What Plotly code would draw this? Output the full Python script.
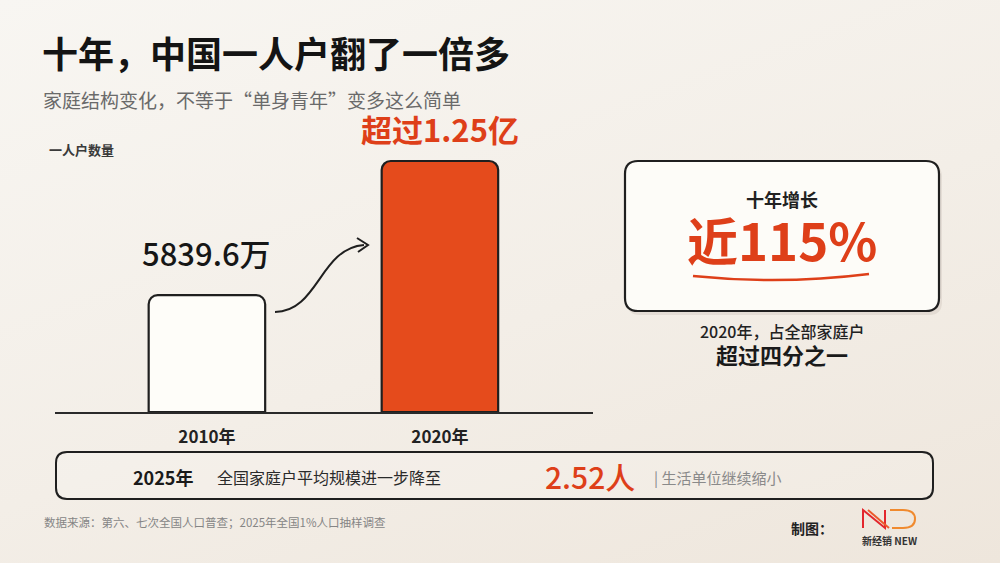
import plotly.graph_objects as go

# ---------------- data ----------------
categories = ["2010年", "2020年"]
households = [5839.6, 12549]          # 一人户数量（万户）
value_labels = ["5839.6万", "超过1.25亿"]
growth_label = "近115%"
avg_size_2025 = "2.52人"

W, H = 1000, 563
FONT = "Noto Sans CJK SC"
ORANGE = "#de3f19"
BAR_ORANGE = "#e54b1c"
INK = "#1f1f1f"


def px(x):
    return x / W


def py(y):
    return 1 - y / H


def pt(x, y):
    return f"{px(x):.5f},{py(y):.5f}"


def rrect(x0, y0, x1, y1, r):
    return (f"M {pt(x0 + r, y0)} L {pt(x1 - r, y0)} Q {pt(x1, y0)} {pt(x1, y0 + r)} "
            f"L {pt(x1, y1 - r)} Q {pt(x1, y1)} {pt(x1 - r, y1)} "
            f"L {pt(x0 + r, y1)} Q {pt(x0, y1)} {pt(x0, y1 - r)} "
            f"L {pt(x0, y0 + r)} Q {pt(x0, y0)} {pt(x0 + r, y0)} Z")


fig = go.Figure()
fig.add_trace(go.Bar(
    x=categories,
    y=households,
    width=0.5,
    marker=dict(color=["#fefdf9", BAR_ORANGE],
                line=dict(color=INK, width=2.2),
                cornerradius=9),
    hoverinfo="skip",
))

# axis geometry (pixels)
base_px, top_px, bar2_top_px = 412, 130, 161
ymax = households[1] * (base_px - top_px) / (base_px - bar2_top_px)

fig.update_layout(
    width=W, height=H,
    margin=dict(l=0, r=0, t=0, b=0),
    paper_bgcolor="rgba(0,0,0,0)", plot_bgcolor="rgba(0,0,0,0)",
    showlegend=False,
    font=dict(family=FONT, color=INK),
    xaxis=dict(domain=[px(55), px(593)], type="category",
               range=[-0.652, 1.657], showgrid=False, zeroline=False,
               showline=True, linecolor="#2a2a2a", linewidth=2,
               ticks="outside", ticklen=9, tickcolor="rgba(0,0,0,0)",
               tickfont=dict(family=FONT, size=17, color="#222", weight="bold"),
               fixedrange=True),
    yaxis=dict(domain=[py(base_px), py(top_px)], range=[0, ymax],
               visible=False, fixedrange=True),
)

# value labels above bars (data coordinates)
fig.add_annotation(x=categories[0], y=households[0], xref="x", yref="y",
                   text=value_labels[0], showarrow=False, yanchor="bottom", yshift=18,
                   font=dict(family=FONT, size=31, color="#161616", weight=500))
fig.add_annotation(x=categories[1], y=households[1], xref="x", yref="y",
                   text=value_labels[1], showarrow=False, yanchor="bottom", yshift=8,
                   font=dict(family=FONT, size=31, color=ORANGE, weight="bold"))

shapes = []
# arrow between bars
shapes.append(dict(type="path", xref="paper", yref="paper",
                   path=f"M {pt(275, 312)} C {pt(318, 312)} {pt(320, 248)} {pt(364, 245)}",
                   line=dict(color=INK, width=2)))
shapes.append(dict(type="path", xref="paper", yref="paper",
                   path=f"M {pt(357, 238)} L {pt(368, 245)} L {pt(358, 252)}",
                   line=dict(color=INK, width=2)))

# right box with shadow
shapes.append(dict(type="path", xref="paper", yref="paper",
                   path=rrect(627, 164, 942, 315, 13),
                   fillcolor="rgba(60,40,20,0.08)", line=dict(width=0)))
shapes.append(dict(type="path", xref="paper", yref="paper",
                   path=rrect(625, 161, 939, 311, 13),
                   fillcolor="#fdfcf8", line=dict(color=INK, width=2.2)))
# underline under 115%
shapes.append(dict(type="path", xref="paper", yref="paper",
                   path=f"M {pt(693, 276)} Q {pt(781, 285)} {pt(869, 274)}",
                   line=dict(color=ORANGE, width=2.5)))

# bottom box
shapes.append(dict(type="path", xref="paper", yref="paper",
                   path=rrect(56, 452, 933, 499, 11),
                   fillcolor="rgba(255,255,255,0.15)", line=dict(color=INK, width=2)))

# logo
shapes.append(dict(type="path", xref="paper", yref="paper",
                   path=f"M {pt(863, 528)} L {pt(863, 510)} L {pt(885, 528)} L {pt(885, 510)}",
                   line=dict(color="#e3262d", width=2)))
shapes.append(dict(type="path", xref="paper", yref="paper",
                   path=f"M {pt(868, 510)} L {pt(889, 528)}",
                   line=dict(color="#ec5a2c", width=2)))
shapes.append(dict(type="path", xref="paper", yref="paper",
                   path=f"M {pt(890, 510)} L {pt(903, 510)} Q {pt(915, 510)} {pt(915, 519)} "
                        f"Q {pt(915, 528)} {pt(903, 528)} L {pt(892, 528)}",
                   line=dict(color="#f08a2e", width=2)))

fig.update_layout(shapes=shapes)


def txt(x, y, s, size, color=INK, bold=False, anchor="left", weight=None):
    f = dict(family=FONT, size=size, color=color)
    if weight is not None:
        f["weight"] = weight
    fig.add_annotation(x=px(x), y=py(y), xref="paper", yref="paper",
                       text=f"<b>{s}</b>" if bold else s, showarrow=False,
                       xanchor=anchor, yanchor="middle", font=f)


txt(40, 52, "十年，中国一人户翻了一倍多", 36, "#141414", bold=True)
txt(41, 99, "家庭结构变化，不等于“单身青年”变多这么简单", 19, "#6a6a6a")
txt(47, 149, "一人户数量", 13, "#3a3a3a", bold=True)

txt(782, 199, "十年增长", 18, "#222", bold=True, anchor="center")
txt(782, 239, growth_label, 51, ORANGE, anchor="center", weight="bold")
txt(782, 331, "2020年，占全部家庭户", 16, "#222", anchor="center", weight=500)
txt(782, 354, "超过四分之一", 22, "#1a1a1a", bold=True, anchor="center")

txt(131, 477, "2025年", 18, "#1a1a1a", bold=True)
txt(215, 477, "全国家庭户平均规模进一步降至", 16, "#2a2a2a")
txt(543, 476, avg_size_2025, 30, ORANGE, weight=500)
txt(652, 477, "| 生活单位继续缩小", 15, "#8a8a8a")

txt(42, 522, "数据来源：第六、七次全国人口普查；2025年全国1%人口抽样调查", 11.5, "#858585")
txt(789, 528, "制图：", 14, "#222", bold=True)
txt(889, 540, "新经销 NEW", 10, "#333", bold=True, anchor="center")

fig.write_html("out.html",
               config={"displayModeBar": False},
               post_script="document.body.style.margin='0';"
                           "document.body.style.background='transparent';"
                           "document.documentElement.style.background="
                           "'linear-gradient(160deg, #f8f6f2 0%, #f3eee7 55%, #eee6dc 100%)';"
                           "document.documentElement.style.minHeight='100%';")
